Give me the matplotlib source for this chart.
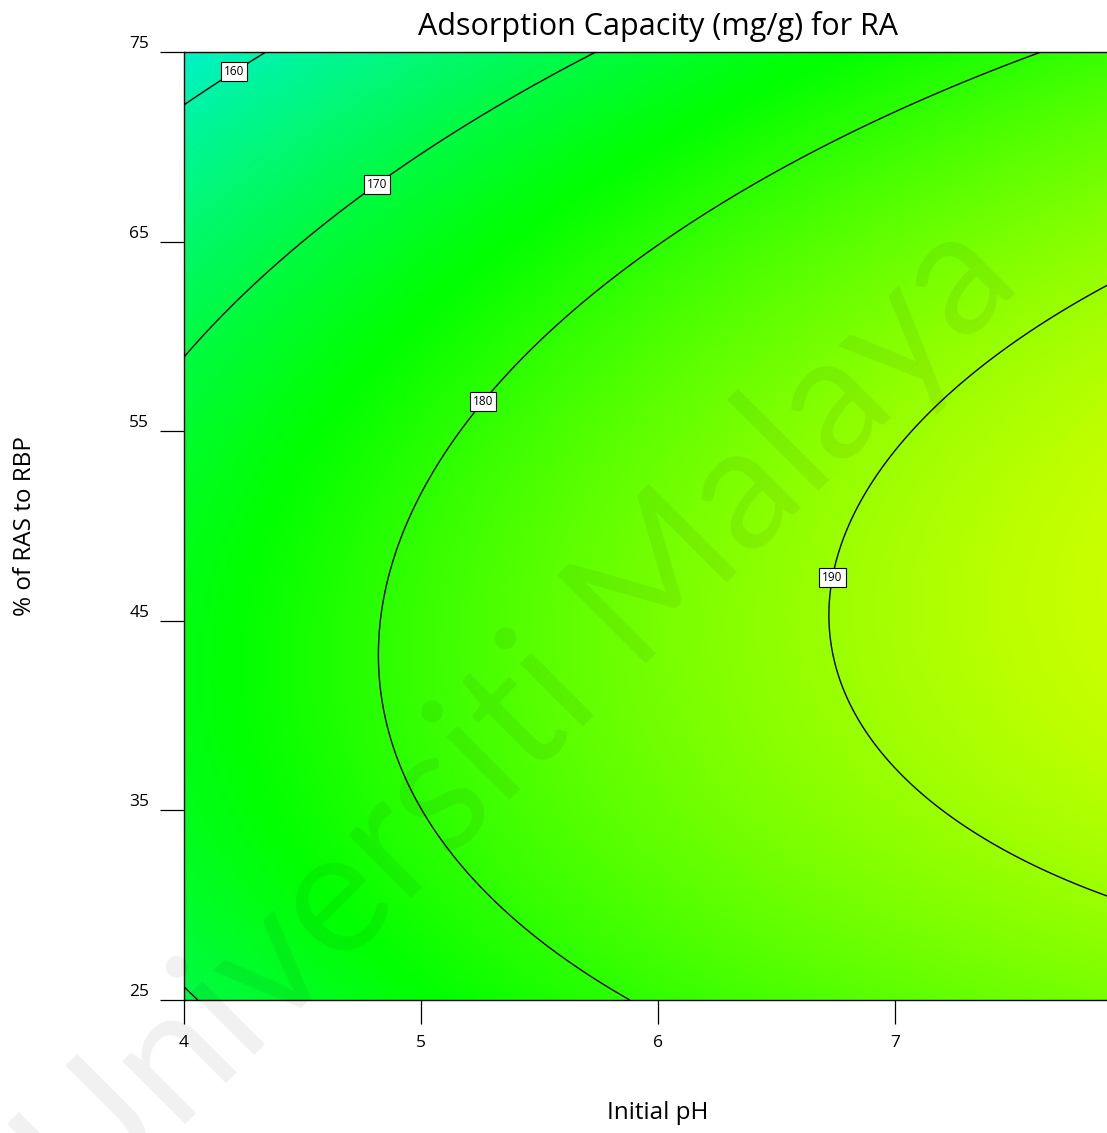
import matplotlib
matplotlib.use("Agg")
import matplotlib.pyplot as plt
import numpy as np
from matplotlib.colors import ListedColormap, Normalize, hsv_to_rgb

plt.rcParams["font.family"] = ["Open Sans", "DejaVu Sans"]

# quadratic response model in actual factors:
# q = b0 + bA*pH + bB*RAS + bAB*pH*RAS + bAA*pH^2 + bBB*RAS^2
model_terms = ["b0", "bA", "bB", "bAB", "bAA", "bBB"]
model_coefs = [113.62, 10.249, 1.2259, 0.03557, -0.5686, -0.01617]

ph_range = [4, 8]
ras_range = [25, 75]
contour_levels = [160, 170, 180, 190]
# where each contour gets its value tag (pH, % RAS)
label_spots = [(4.20, 74.2), (4.80, 68.3), (5.25, 56.7), (6.73, 47.3)]

x_ticks = [4, 5, 6, 7]
y_ticks = [25, 35, 45, 55, 65, 75]


def capacity(ph, ras):
    b0, bA, bB, bAB, bAA, bBB = model_coefs
    return b0 + bA * ph + bB * ras + bAB * ph * ras + bAA * ph ** 2 + bBB * ras ** 2


ph = np.linspace(ph_range[0], ph_range[1], 500)
ras = np.linspace(ras_range[0], ras_range[1], 500)
PH, RAS = np.meshgrid(ph, ras)
Q = capacity(PH, RAS)

# hue sweep cyan -> green -> yellow, like the design software palette
hues = np.linspace(187.6, 57.6, 256) / 360.0
vals = np.clip(0.93 + 0.14 * np.linspace(0, 1, 256), 0, 1)
hsv = np.column_stack([hues, np.ones_like(hues), vals])
cmap = ListedColormap(hsv_to_rgb(hsv))
norm = Normalize(vmin=150, vmax=200)

W, H = 1107, 1133
fig = plt.figure(figsize=(W / 100, H / 100), dpi=100)
ax = fig.add_axes([184 / W, 133 / H, 948 / W, 948 / H])

ax.imshow(Q, extent=[ph_range[0], ph_range[1], ras_range[0], ras_range[1]],
          origin="lower", aspect="auto", cmap=cmap, norm=norm,
          interpolation="bilinear")
cs = ax.contour(PH, RAS, Q, levels=contour_levels, colors="black", linewidths=1.0)
labels = ax.clabel(cs, fmt="%d", manual=label_spots, inline=False, fontsize=8.5)
for t in labels:
    t.set_rotation(0)
    t.set_bbox(dict(boxstyle="square,pad=0.25", fc="white", ec="black", lw=0.8))

ax.set_xlim(ph_range)
ax.set_ylim(ras_range)
ax.set_xticks(x_ticks)
ax.set_yticks(y_ticks)
ax.tick_params(direction="out", length=17, width=0.9, pad=8, labelsize=12.5)
for lab in ax.get_yticklabels():
    lab.set_va("bottom")
for s in ax.spines.values():
    s.set_linewidth(1.0)

fig.text(658 / W, 1 - 27 / H, "Adsorption Capacity (mg/g) for RA",
         fontsize=22, ha="center", va="center")
fig.text(658 / W, 1 - 1113 / H, "Initial pH", fontsize=17.5,
         ha="center", va="center")
fig.text(25 / W, 1 - 526 / H, "% of RAS to RBP", fontsize=17.5,
         rotation=90, ha="center", va="center")

fig.text(0.47, 0.365, "Universiti Malaya", fontsize=125, rotation=45,
         family=["Lato", "DejaVu Sans"], color="black", alpha=0.06,
         ha="center", va="center", zorder=10)

fig.savefig("out.png", dpi=100)
